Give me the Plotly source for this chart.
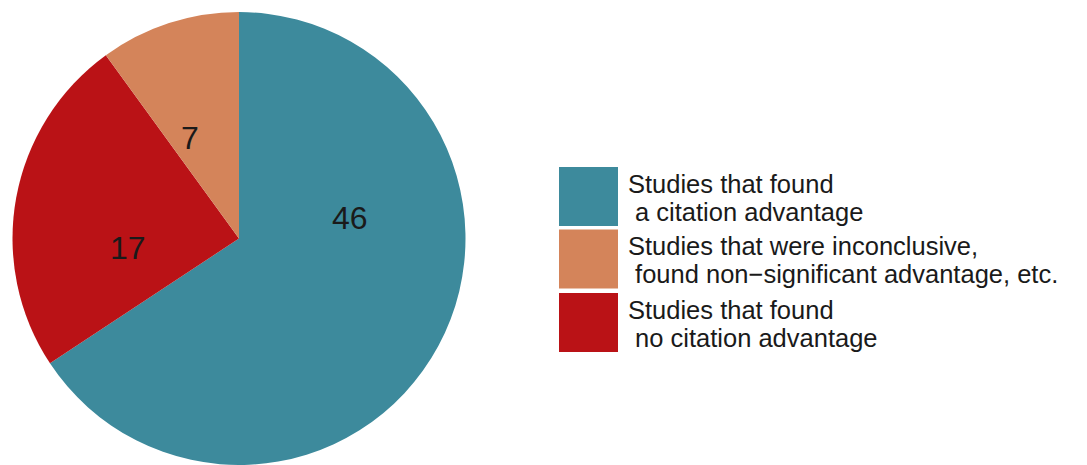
import plotly.graph_objects as go

# Data (pie order, clockwise from 12 o'clock)
categories = [
    "Studies that found\n a citation advantage",
    "Studies that found\n no citation advantage",
    "Studies that were inconclusive,\n found non−significant advantage, etc.",
]
values = [46, 17, 7]
colors = ["#3D8A9C", "#BA1216", "#D4845A"]
legend_order = [0, 2, 1]

W, H = 1087, 465

fig = go.Figure()
fig.add_trace(go.Pie(
    labels=[c.replace("\n", " ") for c in categories],
    values=values,
    sort=False,
    direction="clockwise",
    rotation=0,
    marker=dict(colors=colors, line=dict(width=0)),
    textinfo="none",
    hoverinfo="label+value",
    showlegend=False,
    domain=dict(x=[12 / W, 466 / W], y=[0.0, 1 - 12 / H]),
))

# value labels placed inside slices
label_px = [(350, 218), (128, 248), (190, 138)]
for v, (px, py) in zip(values, label_px):
    fig.add_annotation(
        x=px / W, y=1 - py / H, xref="paper", yref="paper",
        text=str(v), showarrow=False, xanchor="center", yanchor="middle",
        font=dict(size=32, color="#1a1a1a", family="Liberation Sans, Arial, sans-serif"),
    )

# custom legend with large swatches
sw_x0, sw_x1 = 559, 618
row_centers = [196.5, 259, 322.5]
sw_half = 29.5
for row, idx in enumerate(legend_order):
    cy = row_centers[row]
    fig.add_shape(
        type="rect", xref="paper", yref="paper",
        x0=sw_x0 / W, x1=sw_x1 / W,
        y0=1 - (cy + sw_half) / H, y1=1 - (cy - sw_half) / H,
        fillcolor=colors[idx], line=dict(width=0),
    )
    lines = categories[idx].split("\n")
    for li, line in enumerate(lines):
        ly = cy - 13 + li * 28
        fig.add_annotation(
            x=626 / W, y=1 - ly / H, xref="paper", yref="paper",
            text=line.replace(" ", "\u00a0", 1) if line.startswith(" ") else line,
            showarrow=False, xanchor="left", yanchor="middle",
            font=dict(size=25.5, color="#1a1a1a", family="Liberation Sans, Arial, sans-serif"),
        )

fig.update_layout(
    width=W, height=H,
    margin=dict(l=0, r=0, t=0, b=0),
    paper_bgcolor="white",
    plot_bgcolor="white",
)

fig.write_html(
    "out.html",
    config={"displayModeBar": False},
    post_script="document.body.style.margin='0';document.body.style.overflow='hidden';",
)
